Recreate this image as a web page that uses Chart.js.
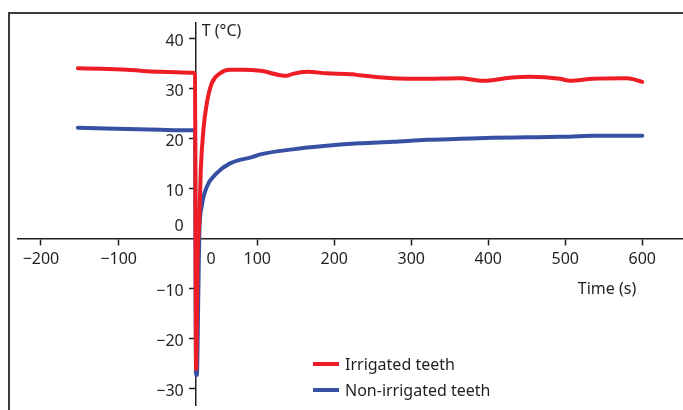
<!DOCTYPE html>
<html>
<head>
<meta charset="utf-8">
<script src="https://cdn.jsdelivr.net/npm/chart.js@4.4.1/dist/chart.umd.min.js"></script>
<style>
  html, body { margin: 0; padding: 0; background: #fff; overflow: hidden; }
  body { width: 683px; height: 410px; position: relative; font-family: 'Noto Sans', sans-serif; color: #231f20; }
  #frame { position: absolute; left: 8px; top: 12px; width: 720px; height: 440px; border: 2px solid #3b3b3b; box-sizing: border-box; }
  #chart { position: absolute; left: 0; top: 0; }
  #legend { position: absolute; left: 313px; top: 351px; font-size: 16px; line-height: 26px; }
  #legend .item { display: flex; align-items: center; height: 26px; }
  #legend .swatch { width: 26px; height: 4px; margin-right: 6px; }
</style>
</head>
<body>
<div id="frame"></div>
<canvas id="chart" width="683" height="410"></canvas>
<div id="legend"></div>
<script>
// Irrigated teeth (red)
const redTime = [-133, -104, -69, -26, 17, 19, 20.5, 22.5, 24.7, 26.6, 30, 34.4, 40.9, 51.6, 64, 80, 104, 138, 146, 165, 190, 224, 233, 276, 320, 363, 393, 428, 454, 493, 506, 536, 580, 600];
const redTemp = [34.0, 33.9, 33.7, 33.3, 33.1, 32.8, -26.1, -4, 3.7, 13.7, 21.7, 27, 31, 33, 33.7, 33.7, 33.5, 32.5, 32.9, 33.3, 33.0, 32.8, 32.6, 32.0, 31.9, 32.0, 31.5, 32.1, 32.3, 31.9, 31.5, 31.9, 32.0, 31.3];

// Non-irrigated teeth (blue)
const blueTime = [-133, -26, 17, 19, 20.5, 21.5, 23.5, 24.7, 27.7, 34.4, 47, 64.5, 94, 104, 146, 190, 233, 276, 320, 363, 406, 450, 493, 536, 600];
const blueTemp = [22.1, 21.7, 21.6, 21.6, -27.3, -27.3, -10, 1, 6.3, 10.3, 13, 15, 16.3, 16.8, 17.8, 18.5, 19.0, 19.3, 19.7, 19.9, 20.1, 20.2, 20.3, 20.5, 20.5];

const seriesLabels = ['Irrigated teeth', 'Non-irrigated teeth'];
const seriesColors = ['#ee1d25', '#3651a3'];

// axis ticks as they sit in the figure (left part of the time axis is shifted)
const xTickValues = [-181, -80, 40, 100, 200, 300, 400, 500, 600];
const xTickLabels = ['\u2212200', '\u2212100', '0', '100', '200', '300', '400', '500', '600'];
const xLabelOnly = [40];
const yTickValues = [-30, -20, -10, 3, 10, 20, 30, 40];
const yTickLabels = ['\u221230', '\u221220', '\u221210', '0', '10', '20', '30', '40'];
const yLabelOnly = [3];

const xRange = [-210.8, 652.9];
const yRange = [-33.3, 43.06];
const yAxisAt = 20;

const textColor = '#231f20';
const axisColor = '#231f20';
const font = { family: "'Noto Sans', sans-serif", size: 16 };
const fontCss = "16px 'Noto Sans', sans-serif";

const toPoints = (xs, ys) => xs.map((x, i) => ({ x, y: ys[i] }));

// y tick labels and axis titles; chart.js puts labels of a value-positioned
// y axis right on the axis line, so they are drawn here instead
const axisText = {
    id: 'axisText',
    afterDraw(chart) {
        const { ctx, scales: { x, y } } = chart;
        const axisX = x.getPixelForValue(yAxisAt);
        ctx.save();
        ctx.fillStyle = textColor;
        ctx.font = fontCss;

        ctx.textAlign = 'right';
        ctx.textBaseline = 'middle';
        yTickValues.forEach((v, i) => {
            ctx.fillText(yTickLabels[i], axisX - 12, y.getPixelForValue(v) + 3);
        });

        ctx.textBaseline = 'alphabetic';
        ctx.textAlign = 'left';
        ctx.fillText('T (\u00b0C)', axisX + 6, y.top + 13);
        ctx.textAlign = 'right';
        ctx.fillText('Time (s)', x.getPixelForValue(600) - 6, y.getPixelForValue(0) + 56);
        ctx.restore();
    }
};

const chart = new Chart(document.getElementById('chart'), {
    type: 'line',
    data: {
        datasets: [
            { label: seriesLabels[0], data: toPoints(redTime, redTemp), borderColor: seriesColors[0] },
            { label: seriesLabels[1], data: toPoints(blueTime, blueTemp), borderColor: seriesColors[1] }
        ]
    },
    options: {
        responsive: false,
        animation: false,
        devicePixelRatio: 1,
        layout: { padding: { left: 18, top: 23, right: 0, bottom: 5 } },
        elements: {
            point: { radius: 0, hoverRadius: 0 },
            line: { borderWidth: 4, cubicInterpolationMode: 'monotone', borderCapStyle: 'round', borderJoinStyle: 'round', fill: false }
        },
        plugins: { legend: { display: false }, tooltip: { enabled: false } },
        scales: {
            x: {
                type: 'linear',
                min: xRange[0],
                max: xRange[1],
                position: { y: 0 },
                afterBuildTicks: axis => { axis.ticks = xTickValues.map(value => ({ value })); },
                ticks: {
                    autoSkip: false,
                    maxRotation: 0,
                    padding: 5,
                    color: textColor,
                    font,
                    callback: (value, index) => xTickLabels[index]
                },
                grid: {
                    drawOnChartArea: false,
                    drawTicks: true,
                    tickLength: 6,
                    tickWidth: 1.5,
                    tickColor: ctx => ctx.tick && xLabelOnly.includes(ctx.tick.value) ? 'rgba(0,0,0,0)' : axisColor
                },
                border: { display: true, color: axisColor, width: 1.5 }
            },
            y: {
                type: 'linear',
                min: yRange[0],
                max: yRange[1],
                position: { x: yAxisAt },
                afterBuildTicks: axis => { axis.ticks = yTickValues.map(value => ({ value })); },
                ticks: { display: false },
                grid: {
                    drawOnChartArea: false,
                    drawTicks: true,
                    tickLength: 6,
                    tickWidth: 1.5,
                    tickColor: ctx => ctx.tick && yLabelOnly.includes(ctx.tick.value) ? 'rgba(0,0,0,0)' : axisColor
                },
                border: { display: true, color: axisColor, width: 1.5 }
            }
        }
    },
    plugins: [axisText]
});

// html legend built from the datasets
const legend = document.getElementById('legend');
chart.data.datasets.forEach(ds => {
    const item = document.createElement('div');
    item.className = 'item';
    const swatch = document.createElement('span');
    swatch.className = 'swatch';
    swatch.style.background = ds.borderColor;
    const text = document.createElement('span');
    text.textContent = ds.label;
    item.appendChild(swatch);
    item.appendChild(text);
    legend.appendChild(item);
});
</script>
</body>
</html>
